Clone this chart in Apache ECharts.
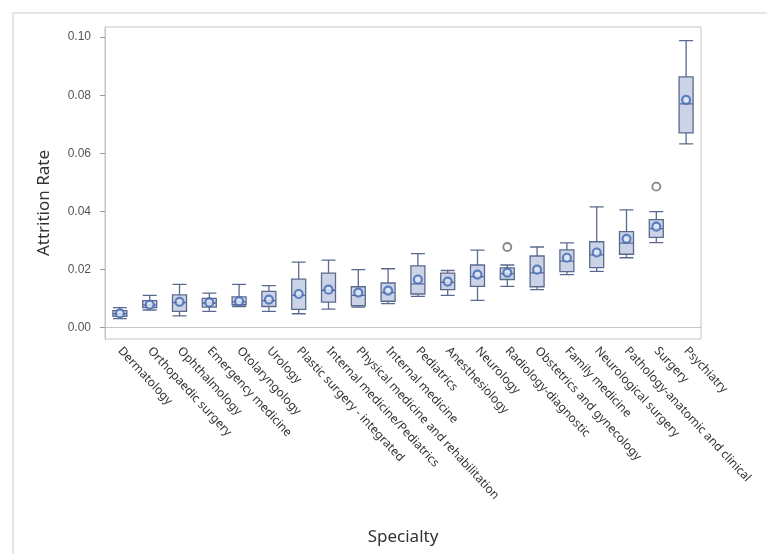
<!DOCTYPE html>
<html>
<head>
<meta charset="utf-8">
<script src="https://cdn.jsdelivr.net/npm/echarts@6/dist/echarts.min.js"></script>
<style>
  html, body { margin: 0; padding: 0; background: #fff; }
  #chart { width: 767px; height: 554px; }
</style>
</head>
<body>
<div id="chart"></div>
<script>
const specialties = [
  "Dermatology", "Orthopaedic surgery", "Ophthalmology", "Emergency medicine",
  "Otolaryngology", "Urology", "Plastic surgery - integrated", "Internal medicine/Pediatrics",
  "Physical medicine and rehabilitation", "Internal medicine", "Pediatrics", "Anesthesiology",
  "Neurology", "Radiology-diagnostic", "Obstetrics and gynecology", "Family medicine",
  "Neurological surgery", "Pathology-anatomic and clinical", "Surgery", "Psychiatry"
];
// five-number summaries
const mins    = [0.0030, 0.0060, 0.0040, 0.0055, 0.0072, 0.0055, 0.0047, 0.0063, 0.0070, 0.0082, 0.0107, 0.0110, 0.0093, 0.0141, 0.0130, 0.0182, 0.0193, 0.0240, 0.0292, 0.0632];
const q1s     = [0.0038, 0.0068, 0.0055, 0.0070, 0.0078, 0.0072, 0.0062, 0.0087, 0.0075, 0.0090, 0.0115, 0.0130, 0.0141, 0.0165, 0.0140, 0.0192, 0.0206, 0.0252, 0.0310, 0.0670];
const medians = [0.0047, 0.0077, 0.0085, 0.0084, 0.0088, 0.0092, 0.0110, 0.0128, 0.0110, 0.0120, 0.0150, 0.0155, 0.0175, 0.0185, 0.0188, 0.0228, 0.0250, 0.0290, 0.0340, 0.0770];
const q3s     = [0.0058, 0.0092, 0.0112, 0.0100, 0.0105, 0.0124, 0.0166, 0.0187, 0.0140, 0.0153, 0.0212, 0.0187, 0.0215, 0.0205, 0.0246, 0.0267, 0.0295, 0.0330, 0.0371, 0.0863];
const maxs    = [0.0068, 0.0110, 0.0148, 0.0118, 0.0148, 0.0144, 0.0225, 0.0232, 0.0199, 0.0202, 0.0254, 0.0196, 0.0266, 0.0215, 0.0277, 0.0291, 0.0415, 0.0405, 0.0399, 0.0988];
const means   = [0.0048, 0.0078, 0.0088, 0.0086, 0.0090, 0.0096, 0.0115, 0.0130, 0.0120, 0.0127, 0.0165, 0.0158, 0.0182, 0.0189, 0.0199, 0.0240, 0.0258, 0.0305, 0.0347, 0.0784];
const outlierCats = ["Radiology-diagnostic", "Surgery"];
const outlierVals = [0.0277, 0.0485];
const yTicks = [0, 0.02, 0.04, 0.06, 0.08, 0.10];

document.addEventListener("DOMContentLoaded", function () {
  const myChart = echarts.init(document.getElementById("chart"));

  const boxData = specialties.map((s, i) => [mins[i], q1s[i], medians[i], q3s[i], maxs[i]]);
  const meanData = specialties.map((s, i) => [s, means[i]]);
  const outlierData = outlierCats.map((c, i) => [c, outlierVals[i]]);

  const option = {
    backgroundColor: "#fff",
    animation: false,
    graphic: [
      {
        type: "rect",
        shape: { x: 13, y: 13, width: 800, height: 600 },
        style: { fill: "none", stroke: "#e6e6e6", lineWidth: 2 },
        silent: true,
      },
    ],
    grid: {
      left: 105,
      right: 66,
      top: 27,
      bottom: 215,
      show: true,
      borderColor: "#c4c4c4",
      borderWidth: 1,
      backgroundColor: "#fff",
    },
    xAxis: {
      type: "category",
      data: specialties,
      boundaryGap: true,
      name: "Specialty",
      nameLocation: "middle",
      nameGap: 190,
      nameTextStyle: { fontFamily: "Noto Sans", fontSize: 17, color: "#333" },
      axisLine: { lineStyle: { color: "#c4c4c4" } },
      axisTick: { alignWithLabel: true, length: 5, lineStyle: { color: "#999" } },
      axisLabel: {
        interval: 0,
        rotate: -47,
        margin: 10,
        fontFamily: "Noto Sans",
        fontSize: 12,
        color: "#333",
      },
    },
    yAxis: {
      type: "value",
      min: -0.004,
      max: 0.1035,
      name: "Attrition Rate",
      nameLocation: "middle",
      nameGap: 52,
      nameTextStyle: { fontFamily: "Noto Sans", fontSize: 17, color: "#333", padding: [0, 40, 0, 0] },
      splitLine: { show: false },
      axisLine: { show: true, lineStyle: { color: "#c4c4c4" } },
      axisTick: { show: true, length: 5, customValues: yTicks, lineStyle: { color: "#999" } },
      axisLabel: {
        customValues: yTicks,
        formatter: (v) => v.toFixed(2),
        margin: 14,
        fontFamily: "Liberation Sans",
        fontSize: 12,
        color: "#555",
      },
    },
    series: [
      {
        name: "Attrition",
        type: "boxplot",
        data: boxData,
        boxWidth: [14, 14],
        itemStyle: {
          color: "#cbd4e7",
          borderColor: "#5a6a8e",
          borderWidth: 1.3,
        },
      },
      {
        name: "Mean",
        type: "scatter",
        data: meanData,
        symbol: "circle",
        symbolSize: 8,
        itemStyle: { color: "#dfe8f8", borderColor: "#3f65b3", borderWidth: 2.2 },
        z: 5,
      },
      {
        name: "Outlier",
        type: "scatter",
        data: outlierData,
        symbol: "circle",
        symbolSize: 8,
        itemStyle: { color: "#fff", borderColor: "#666", borderWidth: 1.8 },
        z: 5,
      },
    ],
  };

  myChart.setOption(option);
});
</script>
</body>
</html>
